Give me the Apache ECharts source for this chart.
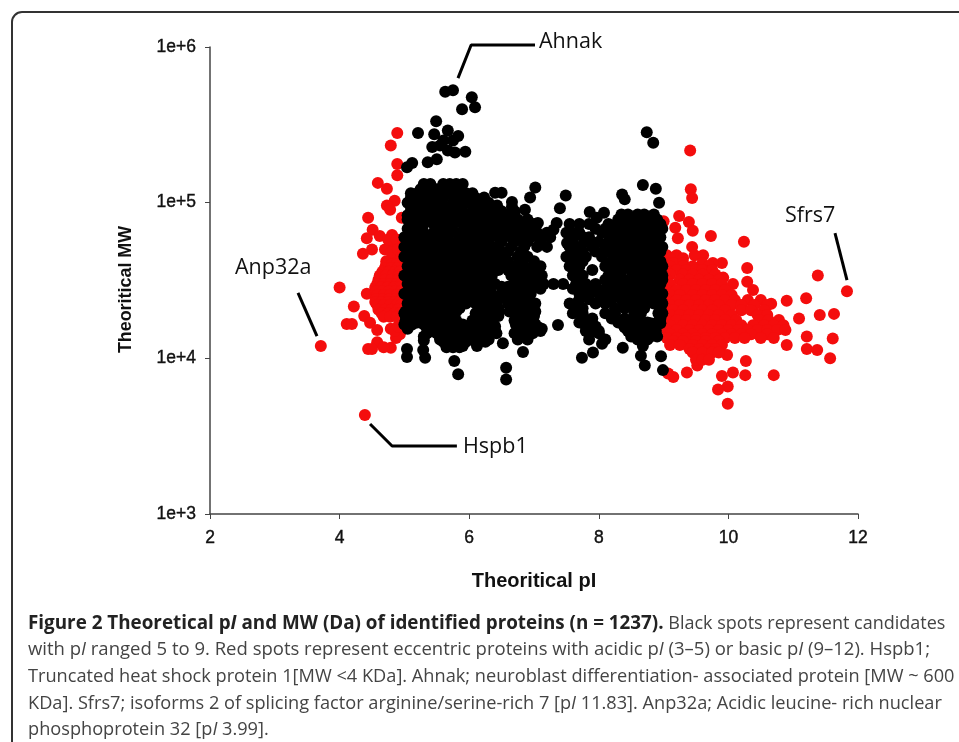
<!DOCTYPE html>
<html>
<head>
<meta charset="utf-8">
<style>html,body{margin:0;padding:0;background:#fff}#c{width:959px;height:742px}</style>
<script src="https://cdn.jsdelivr.net/npm/echarts@6/dist/echarts.min.js"></script>
</head>
<body>
<div id="c"></div>
<script>
const xTicks = [2, 4, 6, 8, 10, 12];
const yTicks = ['1e+3', '1e+4', '1e+5', '1e+6'];

// isolated red spots [pI, MW]
const redSpots = [
[3.71,12000],[4.39,4330],[4.0,28500],[4.22,21500],[4.38,18700],[4.11,16600],[4.19,16600],[4.47,16900],[4.58,15200],[4.58,12700],[4.44,11500],[4.5,11500],
[4.42,26000],[4.89,280000],[4.79,233000],[4.89,177000],[4.89,150000],[4.59,134000],[4.73,123000],[4.85,103000],[4.73,96000],[4.78,90000],[4.96,80000],[4.44,80000],
[4.51,67000],[4.62,61000],[4.42,59000],[4.5,50000],[4.36,47000],[4.78,55000],[4.7,50000],[4.85,46000],[4.81,62000],[4.95,52000],[4.72,42000],[4.9,42000],
[4.75,58000],[4.88,58000],[4.8,48000],[4.9,50000],[4.95,45000],
[4.79,15500],[4.93,14300],[4.79,11700],[4.87,13500],[4.68,11800],[4.85,15000],[4.9,16000],
[9.41,216000],[9.42,122000],[9.44,107000],[9.24,82000],[9.0,76000],[9.18,69000],[9.39,75000],[9.45,66000],[9.22,59000],[9.73,61000],[10.24,56000],[9.44,52000],
[10.29,38000],[11.38,34000],[11.83,27000],[11.2,24300],[10.9,23400],[10.66,22400],[11.41,19000],[11.63,19300],[11.09,18000],[11.61,13400],[11.21,13800],[10.9,12200],
[11.21,11500],[11.37,11300],[11.57,10000],[10.7,7800],[10.27,9600],[10.26,7800],[10.07,8100],[9.9,7700],[9.99,6600],[9.84,6300],[9.99,5100],[9.98,10500],[9.36,8100],
[9.52,9000],[9.15,7600],[9.07,8000],[10.07,30000],[10.29,31000],[10.38,27500],[9.9,41000],[9.76,41000],[9.61,46000],[9.92,33000]
];
// dense red spots, grouped by the MW level they sit at
const redRows = [
[40000,[4.72,4.8,4.88]],[38000,[4.7,4.8,4.9]],[36000,[4.66,4.76,4.86,4.93]],[34000,[4.62,4.72,4.82,4.92]],[32000,[4.6,4.7,4.8,4.9]],[30000,[4.58,4.68,4.78,4.88,4.95]],
[28500,[4.55,4.64,4.74,4.84,4.93]],[27000,[4.56,4.66,4.76,4.86,4.95]],[25500,[4.58,4.68,4.78,4.88]],[24000,[4.56,4.66,4.76,4.86,4.95]],
[23000,[4.55,4.65,4.75,4.85,4.93]],[22000,[4.58,4.68,4.78,4.88,4.95]],[20500,[4.6,4.7,4.8,4.9]],[19500,[4.65,4.75,4.85,4.93]],[18500,[4.68,4.78,4.88]],
[46000,[9.05,9.2,9.48]],[44000,[9.1,9.3]],[41000,[9.05,9.15,9.3,9.6]],[39000,[9.1,9.3,9.45,9.7]],[37000,[9.05,9.2,9.35,9.5,9.6,9.75]],[34500,[9.1,9.3,9.45,9.6,9.8]],
[32000,[9.05,9.25,9.4,9.55,9.7,9.85]],[30000,[9.1,9.3,9.45,9.6,9.75,9.9]],
[27500,[9.05,9.2,9.35,9.5,9.65,9.8,9.95]],[25500,[9.1,9.25,9.45,9.6,9.75,9.9,10.05]],[23700,[9.05,9.2,9.35,9.5,9.65,9.8,9.95,10.1,10.3,10.5]],
[22000,[9.1,9.25,9.4,9.55,9.7,9.85,10.05,10.2,10.4,10.6]],[20400,[9.05,9.15,9.3,9.5,9.6,9.75,9.95,10.2,10.35,10.55]],
[19000,[9.1,9.25,9.4,9.55,9.7,9.85,10.05,10.45,10.6]],[17600,[9.05,9.2,9.35,9.5,9.65,9.8,9.95,10.12,10.48,10.62,10.78]],
[16300,[9.1,9.3,9.45,9.6,9.75,9.9,10.05,10.2,10.38,10.55,10.7,10.85]],[15200,[9.05,9.2,9.4,9.55,9.7,9.85,10.0,10.15,10.3,10.45,10.6,10.75,10.88]],
[14300,[9.1,9.3,9.45,9.6,9.75,9.9,10.05,10.2,10.35,10.6]],[13500,[9.05,9.2,9.35,9.5,9.65,9.8,9.95,10.1,10.25,10.5,10.7]],
[12900,[9.15,9.3,9.5,9.65,9.85]],[12200,[9.1,9.25,9.45,9.6,9.75,9.9]],[11500,[9.4,9.55,9.7,9.8]],[10900,[9.45,9.6,9.75,9.85]],[9800,[9.5,9.6,9.7]]
];
// isolated black spots [pI, MW]
const blackSpots = [
[5.63,515000],[5.75,528000],[6.04,475000],[5.89,398000],[6.09,410000],[5.49,333000],[5.21,280000],[5.46,275000],[5.67,291000],[5.83,268000],[5.75,251000],[5.6,251000],
[5.55,233000],[5.43,228000],[5.67,216000],[5.94,212000],[5.78,210000],[5.36,182000],[5.5,190000],[5.12,180000],[5.04,169000],
[5.04,11500],[5.04,10200],[5.3,13000],[5.29,11300],[5.32,10100],[5.77,9600],[5.83,7900],[6.57,8700],[6.57,7300],[6.52,12500],[6.83,11000],[7.37,16400],[7.9,37000],
[7.74,10100],[7.91,10900],[8.05,12400],[6.01,110000],[6.23,108000],[6.4,116000],[6.5,116000],[6.66,101000],[6.66,94000],[7.02,125000],[6.94,108000],[7.49,111000],
[7.4,92000],[6.43,96000],[6.86,90000],[7.06,74000],[7.35,74000],[7.3,67000],[7.86,87000],[7.97,80000],[8.08,86000],[7.6,64000],[7.76,60000],[7.51,55000],
[8.74,283000],[8.84,243000],[8.68,130000],[8.88,123000],[8.93,100000],[8.36,113000],[8.4,105000],[8.81,78000],[8.37,11700],[8.68,12000],[8.65,10400],[8.71,9000],
[8.96,10300],[8.99,8400],[6.45,37000],[6.6,37000],[6.5,28800],[6.6,28800]
];
// dense black spots, grouped by the MW level they sit at
const blackRows = [
[132000,[5.3,5.4,5.6,5.7,5.8,5.9]],
[122000,[5.25,5.35,5.5,5.6,5.75,5.85]],
[115000,[5.1,5.2,5.35,5.5,5.7,5.95,6.05]],
[107000,[5.1,5.25,5.4,5.6,5.8,5.9,6.1]],
[100000,[5.05,5.2,5.3,5.45,5.55,5.75,5.85,6.0,6.2,6.3]],
[94000,[5.1,5.25,5.4,5.5,5.7,5.85,6.1,6.25,6.4]],
[88000,[5.1,5.25,5.4,5.55,5.7,5.9,6.05,6.2,6.35,6.5,6.7]],
[84000,[8.35,8.45,8.6,8.7,8.85]],
[83000,[5.05,5.15,5.3,5.45,5.6,5.75,5.95,6.15,6.3,6.45,6.6]],
[78000,[5.05,5.2,5.35,5.5,5.65,5.8,6.0,6.1,6.25,6.4,6.55,6.75,6.9, 8.3,8.45,8.6,8.75,8.9]],
[73000,[5.1,5.3,5.45,5.6,5.75,5.9,6.05,6.2,6.35,6.5,6.65,6.8,7.0, 7.55,7.7,7.85,8.15,8.3,8.5,8.65,8.8,8.95]],
[68000,[5.05,5.2,5.5,5.7,5.95,6.1,6.25,6.35,6.5,6.7,6.85,7.0, 7.95,8.1,8.25,8.4,8.55,8.7,8.85,8.98]],
[64000,[5.1,5.3,5.45,5.6,5.8,5.95,6.1,6.25,6.4,6.6,6.75,6.9,7.05,7.2, 7.5,7.7,8.05,8.15,8.3,8.45,8.6,8.75,8.9]],
[60000,[5.0,5.15,5.3,5.55,5.65,5.85,6.0,6.15,6.3,6.45,6.65,6.8,6.95,7.1,7.25, 7.6,7.85,8.2,8.35,8.5,8.65,8.8,8.95]],
[56000,[5.1,5.25,5.4,5.55,5.7,5.85,6.0,6.15,6.3,6.5,6.7,6.9,7.1, 7.6,7.8,8.0,8.15,8.3,8.45,8.6,8.75,8.9]],
[52000,[5.0,5.15,5.3,5.45,5.6,5.75,5.9,6.05,6.2,6.35,6.45,6.65,6.85,7.05,7.2, 7.55,7.7,7.9,8.1,8.25,8.4,8.55,8.7,8.85,8.98]],
[48500,[5.1,5.25,5.4,5.55,5.7,5.85,6.0,6.15,6.3,6.45,6.6,6.8, 7.6,7.75,7.95,8.15,8.35,8.5,8.65,8.8,8.95]],
[45000,[5.0,5.15,5.3,5.45,5.6,5.75,5.9,6.05,6.2,6.35,6.5,6.75,6.9, 7.5,7.65,7.8,8.05,8.25,8.45,8.6,8.75,8.9]],
[42000,[5.1,5.25,5.4,5.55,5.7,5.85,6.0,6.15,6.3,6.45,6.6,6.8,7.0, 7.6,7.75,8.2,8.35,8.5,8.65,8.8,8.95]],
[39000,[5.05,5.2,5.35,5.5,5.65,5.8,5.95,6.1,6.25,6.4,6.55,6.7,6.85,7.0,7.1, 7.55,7.7,8.1,8.25,8.4,8.55,8.7,8.85,8.98]],
[36500,[5.1,5.25,5.4,5.55,5.7,5.85,6.0,6.15,6.3,6.75,6.9,7.05, 7.65,8.2,8.35,8.5,8.65,8.8,8.95]],
[34000,[5.0,5.15,5.3,5.45,5.6,5.75,5.9,6.05,6.2,6.35,6.65,6.8,6.95,7.12, 7.6,7.75,8.15,8.3,8.55,8.7,8.85,8.98]],
[32000,[5.1,5.25,5.4,5.55,5.7,5.85,6.0,6.15,6.3,6.72,6.9,7.05, 7.7,8.1,8.25,8.4,8.55,8.7,8.85,8.98]],
[30000,[5.05,5.2,5.35,5.5,5.65,5.8,5.95,6.1,6.25,6.4,6.7,6.85,7.0,7.15,7.3,7.45, 7.65,7.8,7.95,8.2,8.35,8.5,8.65,8.8,8.95]],
[28000,[5.1,5.25,5.4,5.55,5.7,5.85,6.0,6.15,6.3,6.65,6.8,6.95,7.1, 7.6,7.75,7.9,8.1,8.25,8.4,8.55,8.7,8.85]],
[26000,[5.0,5.15,5.3,5.45,5.6,5.75,5.9,6.05,6.2,6.35,6.5,6.65,6.8,6.95, 7.7,7.85,8.0,8.15,8.3,8.45,8.6,8.75,8.9,8.98]],
[24000,[5.1,5.25,5.4,5.55,5.7,5.85,6.0,6.15,6.3,6.45,6.6,6.75,6.9, 7.7,7.85,8.05,8.2,8.35,8.5,8.65,8.8,8.95]],
[22500,[5.05,5.2,5.35,5.5,5.65,5.8,5.95,6.1,6.25,6.4,6.6,6.75,6.9,7.02, 7.55,7.65,7.95,8.1,8.4,8.55,8.7,8.85,8.98]],
[21000,[5.1,5.25,5.4,5.55,5.7,5.85,6.15,6.3,6.45,6.65,6.8,6.95, 7.65,7.75,8.25,8.4,8.55,8.7,8.95]],
[20000,[5.02,5.18,5.35,5.5,5.65,5.8,6.15,6.3,6.45,6.62,6.78,6.92,7.02]],
[19500,[5.0,5.15,5.3,5.45,5.6,5.75,6.1,6.25,6.4,6.7,6.85,6.98, 7.6,7.75,8.1,8.25,8.55,8.65,8.92,8.98]],
[18700,[5.02,5.12,5.3,5.45,5.6,5.72,6.2,6.33,6.45,6.72,6.85,7.0]],
[18000,[5.1,5.25,5.4,5.55,5.7,6.2,6.35,6.75,6.9, 7.75,7.9,8.2,8.4,8.95]],
[17500,[5.02,5.15,5.3,5.45,5.6,5.8,6.05,6.2,6.35,6.7,6.82,6.95]],
[17000,[5.05,5.2,5.35,5.5,5.7,6.15,6.35,6.75,6.9,7.0, 7.7,7.85,8.3,8.5,8.62,8.75,8.9]],
[16800,[8.35,8.5,8.65,8.8,8.95]],
[16500,[5.0,5.12,5.3,5.45,5.6,5.75,5.9,6.05,6.2,6.35,6.72,6.88,7.02]],
[16000,[5.05,5.5,5.62,5.95,6.25,6.4,6.8,6.95,7.05, 7.8,7.95,8.4,8.55,8.7,8.85]],
[15800,[8.4,8.55,8.7,8.85]],
[15500,[5.05,5.35,5.5,5.62,5.8,5.95,6.1,6.25,6.38,6.75,6.9,7.05,7.12]],
[15000,[5.4,5.55,5.65,5.95,6.1,6.25,6.4,6.8,6.95,7.1, 7.8,7.9,8.0,8.45,8.6,8.75,8.88]],
[14500,[5.35,5.5,5.7,5.85,6.0,6.15,6.3,6.42,6.7,6.85,6.98, 7.85,8.0,8.55,8.7,8.85]],
[13800,[5.3,5.55,5.72,5.85,6.0,6.15,6.3,6.75,6.9, 8.5,8.65,8.8,8.9]],
[13200,[5.55,5.65,5.85,6.0,6.15,6.3,6.75,6.9, 7.85,8.1,8.6,8.75]],
[12800,[5.6,5.75,5.85,5.95,6.1,6.25]],
[12000,[5.7,5.8,5.9,6.12]],
[11800,[5.65,5.75,5.85]]
];
const annotations = [
  {name:'Ahnak', path:[[5.827,631000],[6.03,1030000],[7.015,1030000]]},
  {name:'Hspb1', path:[[4.47,3786],[4.81,2735],[5.81,2735]]},
  {name:'Anp32a', path:[[3.358,26300],[3.651,13900]]},
  {name:'Sfrs7', path:[[11.645,63800],[11.83,31800]]}
];
const captionLines = [
  '{b|Figure 2 Theoretical p}{bi|I}{b| and MW (Da) of identified proteins (n = 1237).} Black spots represent candidates',
  'with p{i|I} ranged 5 to 9. Red spots represent eccentric proteins with acidic p{i|I} (3–5) or basic p{i|I} (9–12). Hspb1;',
  'Truncated heat shock protein 1[MW <4 KDa]. Ahnak; neuroblast differentiation- associated protein [MW ~ 600',
  'KDa]. Sfrs7; isoforms 2 of splicing factor arginine/serine-rich 7 [p{i|I} 11.83]. Anp32a; Acidic leucine- rich nuclear',
  'phosphoprotein 32 [p{i|I} 3.99].'
];

const expand = rows => rows.flatMap(([mw, pis]) => pis.map(p => [p, mw]));
const red = redSpots.concat(expand(redRows));
const black = blackSpots.concat(expand(blackRows));

const capFont = '"Open Sans", sans-serif';
const capRich = {
  b:{fontWeight:'bold', fontSize:18.84, fontFamily:capFont, fill:'#222'},
  bi:{fontWeight:'bold', fontStyle:'italic', fontSize:18.84, fontFamily:capFont, fill:'#222'},
  i:{fontStyle:'italic', fontSize:18.2, fontFamily:capFont, fill:'#444'}
};
const capY = [624, 650, 677, 704, 730];
const capSize = [18, 18.5, 18.2, 18.2, 18.2];
const chart = echarts.init(document.getElementById('c'), null, {renderer:'canvas'});
const axisCol = '#444';
const tickFont = {fontFamily:'"Liberation Sans"', fontSize:17.5, color:'#111', textBorderColor:'#111', textBorderWidth:0.4};
const nameFont = {fontFamily:'"Liberation Sans"', fontWeight:'bold', color:'#111'};
const labelFont = '21.5px "Open Sans"';
chart.setOption({
  animation:false,
  backgroundColor:'#fff',
  grid:{left:210, right:101, top:47, height:467, containLabel:false},
  xAxis:{type:'value', min:2, max:12, interval:2,
    name:'Theoritical pI', nameLocation:'middle', nameGap:57,
    nameTextStyle:Object.assign({fontSize:20}, nameFont),
    axisLine:{lineStyle:{color:axisCol, width:1.5}}, axisTick:{length:5, lineStyle:{color:axisCol}},
    axisLabel:Object.assign({margin:15, formatter:v=>String(v)}, tickFont), splitLine:{show:false}},
  yAxis:{type:'log', min:1000, max:1000000, logBase:10,
    name:'Theoritical MW', nameLocation:'middle', nameGap:75,
    nameTextStyle:Object.assign({fontSize:17.9, padding:[0,18,0,0]}, nameFont),
    axisLine:{show:true, lineStyle:{color:axisCol, width:1.5}}, axisTick:{show:true, length:5, lineStyle:{color:axisCol}},
    axisLabel:Object.assign({margin:14, formatter:v=>yTicks[Math.round(Math.log10(v))-3]}, tickFont), splitLine:{show:false}, minorTick:{show:false}},
  series:[
    {type:'scatter', name:'Red', data:red, symbol:'circle', symbolSize:12, itemStyle:{color:'#f40d0d', opacity:1}, clip:false, silent:true},
    {type:'scatter', name:'Black', data:black, symbol:'circle', symbolSize:12, itemStyle:{color:'#000', opacity:1}, clip:false, silent:true},
    ...annotations.map(a=>({type:'line', name:a.name, data:a.path, clip:false, silent:true, showSymbol:false, symbol:'none',
      lineStyle:{color:'#000', width:3}, z:5}))
  ],
  graphic:[
    {type:'rect', shape:{x:12,y:12,width:1000,height:800,r:10}, style:{fill:'none', stroke:'#333', lineWidth:2}, silent:true, z:-1},
    {type:'text', x:539, y:41.5, style:{text:'Ahnak', font:labelFont, fill:'#111', verticalAlign:'middle'}},
    {type:'text', x:463, y:447, style:{text:'Hspb1', font:labelFont, fill:'#111', verticalAlign:'middle'}},
    {type:'text', x:235, y:268, style:{text:'Anp32a', font:labelFont, fill:'#111', verticalAlign:'middle'}},
    {type:'text', x:785, y:216, style:{text:'Sfrs7', font:labelFont, fill:'#111', verticalAlign:'middle'}},
    ...captionLines.map((l,i)=>({type:'text', x:28, y:capY[i], style:{text:l, fontFamily:capFont, fontSize:capSize[i], fill:'#444', rich:capRich, verticalAlign:'middle'}, silent:true}))
  ]
});
</script>
</body>
</html>
